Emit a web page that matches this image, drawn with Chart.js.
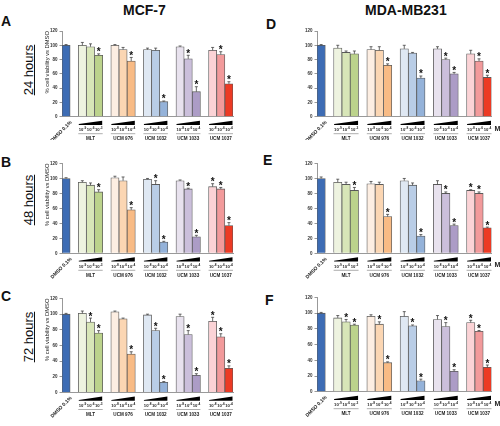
<!DOCTYPE html>
<html>
<head>
<meta charset="utf-8">
<script src="https://cdn.jsdelivr.net/npm/chart.js@4.4.1/dist/chart.umd.min.js"></script>
<style>
  body { margin: 0; background: #fff; width: 500px; height: 426px; position: relative; overflow: hidden; font-family: 'Liberation Sans', Arial, sans-serif; color: #111; }
  canvas { position: absolute; }
  .title { position: absolute; font-weight: bold; font-size: 14px; top: 2px; }
  .letter { position: absolute; font-weight: bold; font-size: 14px; }
  .row { position: absolute; width: 80px; height: 16px; line-height: 16px; font-size: 13px; text-align: center; text-decoration: underline; transform: rotate(-90deg); }
</style>
</head>
<body>
<div class="title" style="left:123px">MCF-7</div>
<div class="title" style="left:365px">MDA-MB231</div>
<div class="letter" style="left:1px;top:13px">A</div>
<div class="letter" style="left:1px;top:154px">B</div>
<div class="letter" style="left:1px;top:288px">C</div>
<div class="letter" style="left:266px;top:16px">D</div>
<div class="letter" style="left:263px;top:152px">E</div>
<div class="letter" style="left:265px;top:292px">F</div>
<div class="row" style="left:-11px;top:62px">24 hours</div>
<div class="row" style="left:-11px;top:192px">48 hours</div>
<div class="row" style="left:-11px;top:329px">72 hours</div>

<canvas id="pA" width="250" height="140" style="left:0;top:0"></canvas>
<canvas id="pB" width="250" height="140" style="left:0;top:140px"></canvas>
<canvas id="pC" width="250" height="146" style="left:0;top:280px"></canvas>
<canvas id="pD" width="250" height="140" style="left:250px;top:0"></canvas>
<canvas id="pE" width="250" height="140" style="left:250px;top:140px"></canvas>
<canvas id="pF" width="250" height="146" style="left:250px;top:280px"></canvas>

<script>
// categories
const controlLabel = 'DMSO 0.1%';
const groups = ['MLT', 'UCM 976', 'UCM 1032', 'UCM 1033', 'UCM 1037'];
const mltExp = ['-9', '-6', '-3'];
const ucmExp = ['-8', '-6', '-4'];
const yTicks = [0, 20, 40, 60, 80, 100, 120];

// values: DMSO, then 3 doses for each group
const mcf24 = [100, 100, 98, 86, 100, 94, 78, 94, 93, 21, 98, 81, 35, 93, 87, 46];
const mcf24Err = [1, 4, 4, 2, 1, 3, 5, 2, 3, 1, 1, 5, 7, 4, 4, 3];
const mcf24Sig = [0, 0, 0, 1, 0, 0, 1, 0, 0, 1, 0, 1, 1, 0, 1, 1];

const mcf48 = [100, 95, 91, 82, 101, 97, 58, 99, 92, 15, 97, 86, 22, 89, 86, 37];
const mcf48Err = [1, 2, 3, 3, 2, 5, 3, 1, 5, 1, 1, 1, 2, 4, 2, 4];
const mcf48Sig = [0, 0, 0, 1, 0, 0, 1, 0, 1, 1, 0, 1, 1, 1, 1, 1];

const mcf72 = [100, 101, 90, 76, 103, 94, 49, 99, 79, 13, 97, 74, 22, 91, 71, 31];
const mcf72Err = [1, 3, 5, 3, 1, 1, 3, 1, 3, 1, 3, 5, 2, 5, 4, 3];
const mcf72Sig = [0, 0, 1, 1, 0, 0, 1, 0, 1, 1, 0, 1, 1, 1, 1, 1];

const mda24 = [100, 96, 90, 88, 94, 93, 72, 95, 89, 54, 95, 80, 60, 88, 78, 55];
const mda24Err = [1, 4, 2, 4, 4, 5, 2, 5, 1, 3, 3, 2, 2, 5, 3, 3];
const mda24Sig = [0, 0, 0, 0, 0, 0, 1, 0, 0, 1, 0, 1, 1, 0, 1, 1];

const mda48 = [100, 95, 92, 84, 93, 92, 49, 97, 91, 23, 92, 80, 37, 84, 80, 34];
const mda48Err = [2, 4, 3, 4, 3, 3, 3, 3, 3, 2, 5, 2, 2, 1, 2, 1];
const mda48Sig = [0, 0, 0, 1, 0, 0, 1, 0, 0, 1, 0, 1, 1, 1, 1, 1];

const mda72 = [100, 94, 89, 85, 96, 86, 37, 96, 84, 14, 92, 83, 26, 88, 77, 31];
const mda72Err = [1, 3, 3, 1, 2, 3, 1, 6, 1, 2, 5, 5, 2, 3, 1, 3];
const mda72Sig = [0, 0, 1, 1, 0, 1, 1, 0, 1, 1, 0, 1, 1, 1, 1, 1];

const barColors = ['#3d6cb4',
  '#eef3e0', '#d8e6b8', '#bcd38c',
  '#fdeee2', '#fbd6b3', '#f8bb85',
  '#dfe8f3', '#b9cde6', '#94b2d9',
  '#e8e2ee', '#cbbfdb', '#ac9cc6',
  '#fbd3d6', '#f29a9b', '#ec3a24'];

// put an empty slot after the control and between groups
function slots(arr) {
  const out = [arr[0], null];
  for (let g = 0; g < groups.length; g++) {
    out.push(arr[1 + g * 3], arr[2 + g * 3], arr[3 + g * 3]);
    if (g < groups.length - 1) out.push(null);
  }
  return out;
}
const slotLabels = slots([controlLabel].concat(...groups.map(g => [g, g, g])));

const info = {};

const extras = {
    id: 'extras',
    afterDatasetsDraw(chart) {
        const p = info[chart.canvas.id];
        const ctx = chart.ctx;
        const meta = chart.getDatasetMeta(0);
        const y = chart.scales.y;
        const data = chart.data.datasets[0].data;
        ctx.save();
        data.forEach((v, i) => {
            if (v === null) return;
            const bar = meta.data[i];
            const top = y.getPixelForValue(v + p.err[i]);
            ctx.strokeStyle = '#444';
            ctx.lineWidth = 0.8;
            ctx.beginPath();
            ctx.moveTo(bar.x, bar.y);
            ctx.lineTo(bar.x, top);
            ctx.moveTo(bar.x - 1.5, top);
            ctx.lineTo(bar.x + 1.5, top);
            ctx.stroke();
            if (p.sig[i]) {
                ctx.fillStyle = '#111';
                ctx.font = 'bold 10px "Liberation Sans"';
                ctx.textAlign = 'center';
                ctx.textBaseline = 'alphabetic';
                ctx.fillText('*', bar.x, top + 1.5);
            }
        });

        const b = chart.chartArea.bottom;
        groups.forEach((name, g) => {
            const b0 = meta.data[2 + g * 4], b2 = meta.data[4 + g * 4];
            const x0 = b0.x - b0.width / 2, x1 = b2.x + b2.width / 2;
            ctx.fillStyle = '#000';
            ctx.beginPath();
            ctx.moveTo(x0 + 0.5, b + 7.4);
            ctx.lineTo(x1 - 0.5, b + 4);
            ctx.lineTo(x1 - 0.5, b + 8.2);
            ctx.lineTo(x0 + 0.5, b + 8.2);
            ctx.closePath();
            ctx.fill();

            const exps = g === 0 ? mltExp : ucmExp;
            ctx.fillStyle = '#222';
            ctx.textBaseline = 'alphabetic';
            for (let k = 0; k < 3; k++) {
                const bx = meta.data[2 + g * 4 + k].x;
                ctx.font = 'bold 4.2px "Liberation Sans"';
                ctx.textAlign = 'right';
                ctx.fillText('10', bx + 1, b + 14.2);
                ctx.font = 'bold 3.2px "Liberation Sans"';
                ctx.textAlign = 'left';
                ctx.fillText(exps[k], bx + 1.1, b + 12.4);
            }

            ctx.strokeStyle = '#999';
            ctx.lineWidth = 0.8;
            ctx.beginPath();
            ctx.moveTo(x0, b + 17);
            ctx.lineTo(x1, b + 17);
            ctx.stroke();

            ctx.font = 'bold 4.6px "Liberation Sans"';
            ctx.textAlign = 'center';
            ctx.textBaseline = 'middle';
            ctx.fillText(name, (x0 + x1) / 2, b + 22);
        });

        const d = meta.data[0];
        ctx.save();
        ctx.translate(d.x + 5, b + 5);
        ctx.rotate(-Math.PI / 4);
        ctx.font = 'bold 5px "Liberation Sans"';
        ctx.textAlign = 'right';
        ctx.textBaseline = 'middle';
        ctx.fillText(controlLabel, 0, 0);
        ctx.restore();

        if (p.showM) {
            ctx.font = 'bold 7px "Liberation Sans"';
            ctx.textAlign = 'left';
            ctx.textBaseline = 'middle';
            ctx.fillText('M', chart.chartArea.right + 3, b + 12);
        }
        ctx.restore();
    }
};

function makePanel(id, vals, errs, sigs, box) {
    const cv = document.getElementById(id);
    info[id] = { err: slots(errs), sig: slots(sigs), showM: box.showM };
    new Chart(cv, {
        type: 'bar',
        data: {
            labels: slotLabels,
            datasets: [{
                data: slots(vals),
                backgroundColor: slots(barColors),
                borderColor: '#5a5a5a',
                borderWidth: 0.8,
                barPercentage: 1,
                categoryPercentage: 1
            }]
        },
        options: {
            responsive: false,
            animation: false,
            devicePixelRatio: 1,
            layout: { padding: { left: box.padL, top: box.top, right: cv.width - box.right, bottom: 0 } },
            plugins: { legend: { display: false }, tooltip: { enabled: false } },
            scales: {
                x: {
                    ticks: { display: false },
                    grid: { display: false },
                    border: { color: '#999' },
                    afterFit: s => { s.height = cv.height - box.bottom; }
                },
                y: {
                    min: 0,
                    max: 120,
                    afterBuildTicks: s => { s.ticks = yTicks.map(v => ({ value: v })); },
                    ticks: { font: { size: 4.5, weight: 'bold', family: 'Liberation Sans' }, color: '#333', padding: 2 },
                    grid: { drawOnChartArea: false, tickLength: 2.5, color: '#999' },
                    border: { color: '#999' },
                    title: {
                        display: box.yTitle,
                        text: '% cell viability vs DMSO',
                        align: 'end',
                        font: { size: 5.8, family: 'Liberation Sans' },
                        color: '#222',
                        padding: { top: 0.5, bottom: 0 }
                    },
                    afterFit: s => { s.width = box.left - box.padL; }
                }
            }
        },
        plugins: [extras]
    });
}

// boxes in canvas coordinates
makePanel('pA', mcf24, mcf24Err, mcf24Sig, { padL: 43, left: 62, right: 233, top: 31, bottom: 116.7, yTitle: true });
makePanel('pB', mcf48, mcf48Err, mcf48Sig, { padL: 43, left: 62, right: 233, top: 23.5, bottom: 113.3, yTitle: true });
makePanel('pC', mcf72, mcf72Err, mcf72Sig, { padL: 43, left: 62, right: 233, top: 18.5, bottom: 112.5, yTitle: true });
makePanel('pD', mda24, mda24Err, mda24Sig, { padL: 47, left: 67, right: 241.5, top: 31, bottom: 116.7, yTitle: false, showM: true });
makePanel('pE', mda48, mda48Err, mda48Sig, { padL: 47, left: 67, right: 241.5, top: 23.5, bottom: 113.3, yTitle: false, showM: true });
makePanel('pF', mda72, mda72Err, mda72Sig, { padL: 47, left: 67, right: 241.5, top: 17.5, bottom: 111.7, yTitle: false, showM: true });
</script>
</body>
</html>
